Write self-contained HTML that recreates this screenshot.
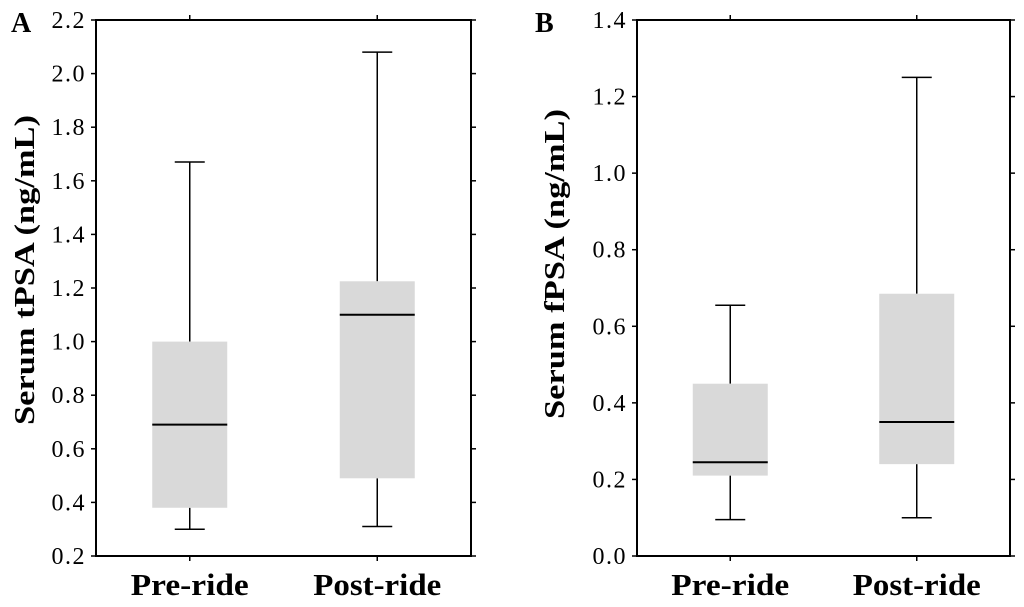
<!DOCTYPE html>
<html><head><meta charset="utf-8"><style>
html,body{margin:0;padding:0;background:#fff;}
svg{display:block;font-family:"Liberation Serif",serif;}
</style></head><body>
<svg id="chart" width="1024" height="607" viewBox="0 0 1024 607"></svg>
<script>
const categories = ["Pre-ride", "Post-ride"];
const tpsaMin = [0.30, 0.31];
const tpsaQ1 = [0.38, 0.49];
const tpsaMed = [0.69, 1.10];
const tpsaQ3 = [1.00, 1.225];
const tpsaMax = [1.67, 2.08];
const tpsaTicks = ["0.2","0.4","0.6","0.8","1.0","1.2","1.4","1.6","1.8","2.0","2.2"];
const fpsaMin = [0.095, 0.10];
const fpsaQ1 = [0.21, 0.24];
const fpsaMed = [0.245, 0.35];
const fpsaQ3 = [0.45, 0.685];
const fpsaMax = [0.655, 1.25];
const fpsaTicks = ["0.0","0.2","0.4","0.6","0.8","1.0","1.2","1.4"];

const NS = "http://www.w3.org/2000/svg";
const svg = document.getElementById("chart");
function mk(tag, attrs, parent){
  const e = document.createElementNS(NS, tag);
  for (const k in attrs) e.setAttribute(k, attrs[k]);
  (parent||svg).appendChild(e);
  return e;
}

function panel(cfg){
  const g = mk("g", {});
  
  
  const {x0,x1,y0,y1,ymin,ymax} = cfg;
  const ys = v => y1 - (v - ymin) / (ymax - ymin) * (y1 - y0);
  const xs = i => x0 + (x1 - x0) * (i + 0.5) / categories.length;
  const fr = mk("rect", {x:x0, y:y0, width:x1-x0, height:y1-y0, fill:"none", stroke:"#000", "stroke-width":2}, g);
  
  
  cfg.ticks.forEach(t => {
    const v = parseFloat(t), y = ys(v);
    const l = mk("line", {x1:x0-5, x2:x0, y1:y, y2:y, stroke:"#000", "stroke-width":1.5}, g);
    
    
    const r = mk("line", {x1:x1, x2:x1+5, y1:y, y2:y, stroke:"#000", "stroke-width":1.5}, g);
    
    
    const tx = mk("text", {x:x0-10, y:y+8, "text-anchor":"end", "font-size":24, "letter-spacing":"1.5"}, g);
    tx.textContent = t;
    
    
  });
  const yt = mk("text", {x:0, y:0, transform:`translate(${cfg.titleX},${cfg.titleY}) rotate(-90)`, "text-anchor":"middle", "font-size":28, "font-weight":"bold", textLength:310, lengthAdjust:"spacingAndGlyphs"}, g);
  yt.textContent = cfg.title;
  
  
  const pl = mk("text", {x:cfg.letterX, y:32, "font-size":28, "font-weight":"bold"}, g);
  pl.textContent = cfg.letter;
  
  
  categories.forEach((c, i) => {
    const x = xs(i);
    const tb = mk("line", {x1:x, x2:x, y1:y1, y2:y1+5, stroke:"#000", "stroke-width":1.5}, g);
    
    
    const tt = mk("line", {x1:x, x2:x, y1:y0-5, y2:y0, stroke:"#000", "stroke-width":1.5}, g);
    
    
    const lab = mk("text", {x:x, y:595, "text-anchor":"middle", "font-size":31, "font-weight":"bold", textLength: c.length > 8 ? 128 : 118, lengthAdjust:"spacingAndGlyphs"}, g);
    lab.textContent = c;
    
    
    const wu = mk("line", {x1:x, x2:x, y1:ys(cfg.max[i]), y2:ys(cfg.q3[i]), stroke:"#000", "stroke-width":1.5}, g);
    
    
    const wl = mk("line", {x1:x, x2:x, y1:ys(cfg.q1[i]), y2:ys(cfg.min[i]), stroke:"#000", "stroke-width":1.5}, g);
    
    
    [cfg.max[i], cfg.min[i]].forEach(v => {
      const cap = mk("line", {x1:x-15, x2:x+15, y1:ys(v), y2:ys(v), stroke:"#000", "stroke-width":1.5}, g);
      
      
    });
    const box = mk("rect", {x:x-37.5, width:75, y:ys(cfg.q3[i]), height:ys(cfg.q1[i]) - ys(cfg.q3[i]), fill:"#d9d9d9"}, g);
    
    
    const med = mk("line", {x1:x-37.5, x2:x+37.5, y1:ys(cfg.med[i]), y2:ys(cfg.med[i]), stroke:"#000", "stroke-width":2}, g);
    
    
  });
}

panel({name:"panel-a-tpsa", x0:96, x1:471, y0:20, y1:556, ymin:0.2, ymax:2.2,
  ticks:tpsaTicks, min:tpsaMin, q1:tpsaQ1, med:tpsaMed, q3:tpsaQ3, max:tpsaMax,
  title:"Serum tPSA (ng/mL)", titleX:34, titleY:270, letter:"A", letterX:11});
panel({name:"panel-b-fpsa", x0:637, x1:1010, y0:20, y1:556, ymin:0.0, ymax:1.4,
  ticks:fpsaTicks, min:fpsaMin, q1:fpsaQ1, med:fpsaMed, q3:fpsaQ3, max:fpsaMax,
  title:"Serum fPSA (ng/mL)", titleX:564, titleY:264, letter:"B", letterX:535});
</script>
</body></html>
